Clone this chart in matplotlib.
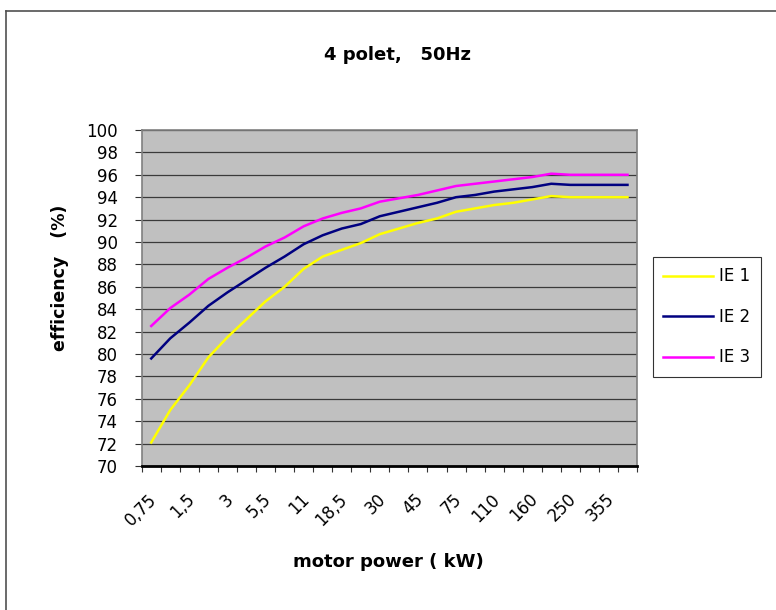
import matplotlib
matplotlib.use("Agg")
import matplotlib.pyplot as plt
from matplotlib.lines import Line2D
import matplotlib.transforms as mtransforms

plt.rcParams['font.family'] = ['DejaVu Sans']

power_kw = ["0,75", "1,1", "1,5", "2,2", "3", "4", "5,5", "7,5", "11", "15", "18,5", "22",
            "30", "37", "45", "55", "75", "90", "110", "132", "160", "200", "250", "315",
            "355", "375"]
ie1 = [72.1, 75.0, 77.2, 79.7, 81.5, 83.1, 84.7, 86.0, 87.6, 88.7, 89.3, 89.9,
       90.7, 91.2, 91.7, 92.1, 92.7, 93.0, 93.3, 93.5, 93.8, 94.1, 94.0, 94.0, 94.0, 94.0]
ie2 = [79.6, 81.4, 82.8, 84.3, 85.5, 86.6, 87.7, 88.7, 89.8, 90.6, 91.2, 91.6,
       92.3, 92.7, 93.1, 93.5, 94.0, 94.2, 94.5, 94.7, 94.9, 95.2, 95.1, 95.1, 95.1, 95.1]
ie3 = [82.5, 84.1, 85.3, 86.7, 87.7, 88.6, 89.6, 90.4, 91.4, 92.1, 92.6, 93.0,
       93.6, 93.9, 94.2, 94.6, 95.0, 95.2, 95.4, 95.6, 95.8, 96.1, 96.0, 96.0, 96.0, 96.0]
series_names = ["IE 1", "IE 2", "IE 3"]
series_colors = ["#FFFF00", "#000080", "#FF00FF"]
y_ticks = list(range(70, 101, 2))

W, H = 776, 610
fig = plt.figure(figsize=(W / 100, H / 100), dpi=100)
fig.patch.set_facecolor("white")

L, R, T, B = 141.7, 637, 130, 466
ax = fig.add_axes([L / W, 1 - B / H, (R - L) / W, (B - T) / H])
ax.set_facecolor("#C0C0C0")

x = list(range(len(power_kw)))
for vals, name, col in zip([ie1, ie2, ie3], series_names, series_colors):
    ax.plot(x, vals, color=col, lw=1.8, label=name, solid_joinstyle="round")

ax.set_xlim(-0.5, len(power_kw) - 0.5)
ax.set_ylim(70, 100)
ax.set_yticks(y_ticks)
ax.set_yticklabels([str(v) for v in y_ticks], fontsize=12)
ax.grid(axis="y", color="#3a3a3a", lw=0.9)
ax.set_axisbelow(True)

# category boundary ticks (major) and labels at every other category (minor)
ax.set_xticks([i - 0.5 for i in range(len(power_kw) + 1)])
ax.set_xticklabels([])
ax.set_xticks(x[::2], minor=True)
ax.set_xticklabels(power_kw[::2], minor=True, rotation=45, ha="right",
                   rotation_mode="anchor", fontsize=12)
ax.tick_params(axis="x", which="major", direction="out", length=4, width=0.8, color="#333333")
ax.tick_params(axis="x", which="minor", length=0, pad=22)
ax.tick_params(axis="y", direction="out", length=5, width=0.8, color="#333333", pad=12)
shift = mtransforms.ScaledTranslation(3 / 100, 0, fig.dpi_scale_trans)
for lbl in ax.get_xticklabels(minor=True):
    lbl.set_va("center")
    lbl.set_transform(lbl.get_transform() + shift)

for s in ["top", "right", "left"]:
    ax.spines[s].set_color("#808080")
    ax.spines[s].set_linewidth(1.2)
ax.spines["bottom"].set_color("black")
ax.spines["bottom"].set_linewidth(2)

fig.text(398 / W, 1 - 55 / H, "4 polet,   50Hz", ha="center", va="center",
         fontsize=13, fontweight="bold")
fig.text(60 / W, 1 - 278 / H, "efficiency   (%)", ha="center", va="center",
         rotation=90, fontsize=12.5, fontweight="bold")
fig.text(388 / W, 1 - 562 / H, "motor power ( kW)", ha="center", va="center",
         fontsize=13, fontweight="bold")

leg = ax.legend(loc="upper left", bbox_to_anchor=(653 / W, 1 - 257 / H),
                bbox_transform=fig.transFigure, borderaxespad=0, fancybox=False,
                frameon=True, edgecolor="black", fontsize=12, handlelength=3.0,
                handletextpad=0.35, labelspacing=1.35, borderpad=0.62)
leg.get_frame().set_linewidth(0.8)

# outer chart border (left and top visible)
fig.add_artist(Line2D([5.5 / W, 5.5 / W], [0, 1 - 11 / H], color="#505050", lw=1.2))
fig.add_artist(Line2D([5.5 / W, 1], [1 - 11 / H, 1 - 11 / H], color="#505050", lw=1.2))

fig.savefig("out.png", dpi=100)
